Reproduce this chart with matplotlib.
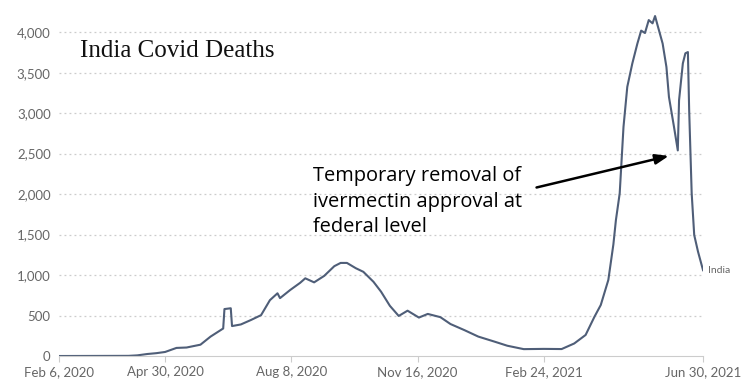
import numpy as np
import pandas as pd
from matplotlib import pyplot as plt
import matplotlib.dates as mdates

# 7-day average daily deaths
dates = [
    "2020-02-06", "2020-04-01", "2020-04-08", "2020-04-16", "2020-04-23", "2020-04-30",
    "2020-05-09", "2020-05-17", "2020-05-28", "2020-06-05", "2020-06-13", "2020-06-15",
    "2020-06-16", "2020-06-21", "2020-06-22", "2020-06-29", "2020-07-07", "2020-07-15",
    "2020-07-22", "2020-07-28", "2020-07-30", "2020-08-07", "2020-08-15", "2020-08-19",
    "2020-08-26", "2020-09-03", "2020-09-11", "2020-09-16", "2020-09-21", "2020-09-28",
    "2020-10-04", "2020-10-12", "2020-10-18", "2020-10-25", "2020-11-01", "2020-11-08",
    "2020-11-17", "2020-11-24", "2020-12-04", "2020-12-12", "2020-12-23", "2021-01-03",
    "2021-01-16", "2021-01-26", "2021-02-08", "2021-02-24", "2021-03-10", "2021-03-20",
    "2021-03-29", "2021-04-05", "2021-04-10", "2021-04-16", "2021-04-20", "2021-04-22",
    "2021-04-25", "2021-04-28", "2021-05-01", "2021-05-05", "2021-05-09", "2021-05-12",
    "2021-05-15", "2021-05-18", "2021-05-21", "2021-05-23", "2021-05-25", "2021-05-29",
    "2021-06-01", "2021-06-03", "2021-06-07", "2021-06-10", "2021-06-11", "2021-06-14",
    "2021-06-16", "2021-06-18", "2021-06-19", "2021-06-21", "2021-06-23", "2021-06-26",
    "2021-06-30",
]
deaths = [
    0, 2, 8, 25, 35, 50,
    100, 105, 140, 240, 320, 340,
    580, 590, 370, 390, 445, 505,
    690, 775, 715, 815, 905, 960,
    910, 990, 1110, 1150, 1150, 1085,
    1040, 917, 795, 620, 495, 560,
    475, 520, 480, 395, 320, 240,
    177, 127, 85, 88, 86, 155,
    260, 485, 630, 940, 1380, 1680,
    2010, 2830, 3325, 3615, 3860, 4020,
    3990, 4150, 4110, 4200, 4085, 3860,
    3570, 3200, 2830, 2540, 3160, 3615,
    3740, 3755, 3040, 2010, 1495, 1290,
    1060,
]

tick_dates = ["2020-02-06", "2020-04-30", "2020-08-08", "2020-11-16", "2021-02-24", "2021-06-30"]
y_ticks = [0, 500, 1000, 1500, 2000, 2500, 3000, 3500, 4000]

x = pd.to_datetime(dates)
ticks = pd.to_datetime(tick_dates)

fig = plt.figure(figsize=(7.5, 3.92), dpi=100)
ax = fig.add_axes([0.0787, 0.0918, 0.8587, 0.8776])

grey = "#666666"
ax.plot(x, deaths, color="#4f5e78", linewidth=1.5, solid_joinstyle="round")

ax.set_xlim(ticks[0], ticks[-1])
ax.set_ylim(0, 4250)

ax.set_yticks(y_ticks)
ax.set_yticklabels([f"{v:,}" for v in y_ticks], fontfamily="Lato", fontsize=9.5, color=grey)
ax.set_xticks(ticks)
ax.set_xticklabels([f"{d:%b} {d.day}, {d.year}" for d in ticks],
                   fontfamily="Lato", fontsize=9.5, color=grey)
ax.tick_params(axis="y", length=0, pad=6)
ax.tick_params(axis="x", length=4, color="#cccccc", pad=3)

for v in y_ticks[1:]:
    ax.axhline(v, color="#cccccc", linestyle=(0, (1.5, 2.5)), linewidth=0.9, zorder=0)

for s in ["top", "right", "left"]:
    ax.spines[s].set_visible(False)
ax.spines["bottom"].set_color("#cccccc")

ax.text(0.107, 0.855, "India Covid Deaths", transform=fig.transFigure,
        fontfamily="Liberation Serif", fontsize=18, color="#111111", va="baseline")

ax.text(x[-1] + pd.Timedelta(days=4), deaths[-1], "India", fontfamily="Lato",
        fontsize=7.5, color=grey, va="center", clip_on=False)

ax.text(0.417, 0.576, "Temporary removal of\nivermectin approval at\nfederal level",
        transform=fig.transFigure, fontfamily="Open Sans", fontsize=14.4,
        color="black", va="top", linespacing=1.36)
ax.annotate("", xy=(pd.Timestamp("2021-06-05"), 2480), xytext=(pd.Timestamp("2021-02-16"), 2074),
            arrowprops=dict(arrowstyle="-|>,head_length=0.8,head_width=0.3", color="black", lw=1.8))

fig.savefig("out.png", dpi=100)
